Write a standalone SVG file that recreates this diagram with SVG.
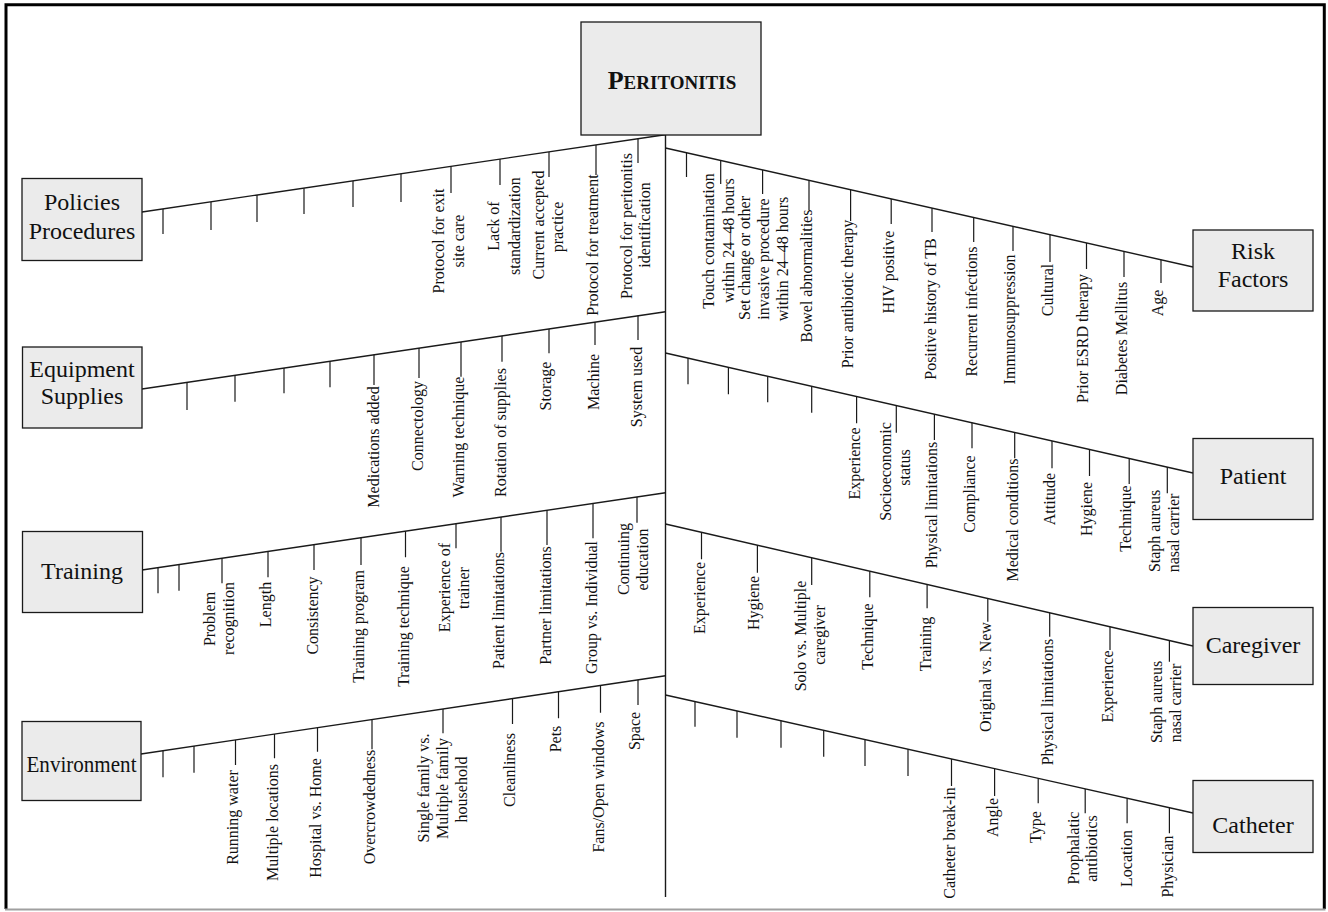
<svg xmlns="http://www.w3.org/2000/svg" width="1328" height="912" viewBox="0 0 1328 912">
<style>
.box{fill:#ebebeb;stroke:#1a1a1a;stroke-width:1.3}
.bt{font-family:"Liberation Serif","Times New Roman",serif;font-size:24px;text-anchor:middle;fill:#111}
.lb{font-family:"Liberation Serif","Times New Roman",serif;font-size:16px;text-anchor:middle;fill:#111}
.sp{stroke:#1a1a1a;stroke-width:1.4;fill:none}
.tk{stroke:#1a1a1a;stroke-width:1.2;fill:none}
</style>
<rect width="1328" height="912" fill="#fff"/>
<path d="M6,909 V4.7 H1324.3 V909" fill="none" stroke="#000" stroke-width="3"/>
<path d="M5,909.5 H1325.5" stroke="#a0a0a0" stroke-width="2"/>

<g id="connectors">
<path class="sp" d="M665.5,135 V897"/>
<path class="sp" d="M142,212 L665,134.7"/>
<path class="tk" d="M163,209V234 M211,201.9V230 M257,195.1V222 M304,188.2V214 M353,180.9V207 M401,173.8V202 M451,166.4V193 M500,159.1V185 M549,151.9V177 M596,144.9V175 M638,138.7V163"/>
<path class="sp" d="M142,389 L665.5,311.8"/>
<path class="tk" d="M187,382.4V410 M235,375.3V401.7 M284,368.1V393.3 M330,361.3V387.3 M374,354.8V385 M419,348.1V378 M461,341.9V376.7 M502,335.9V361.7 M549,329V353.3 M595,322.2V345 M638,315.8V340"/>
<path class="sp" d="M142,570 L665.5,492.8"/>
<path class="tk" d="M158,567.6V593.3 M179,564.5V590.7 M222,558.2V583.3 M268,551.4V577.3 M314,544.6V570 M361,537.7V565 M405.5,531.1V557.3 M456,523.7V548.3 M501,517V551.7 M547,510.3V545 M593,503.5V538.3 M637,497V522.7"/>
<path class="sp" d="M141,754 L665.5,675.8"/>
<path class="tk" d="M163,750.7V777.3 M194,746.1V772.7 M235.5,739.9V765 M274.5,734.1V758.3 M317.5,727.7V751.7 M372,719.5V749.3 M443,709V733.3 M512.5,698.6V724 M558.5,691.7V718.3 M600.5,685.5V712.7 M638,679.9V705"/>
<path class="sp" d="M665.5,148 L1193,267"/>
<path class="tk" d="M686.5,152.8V177 M720.7,160.6V184 M762.6,170V194 M809,180.5V210 M850.6,189.8V221 M891.2,199V224 M932,208.2V232 M973.7,217.6V242 M1013,226.4V251 M1050,234.8V262 M1086.5,243V269 M1124,251.4V277 M1161,259.8V283"/>
<path class="sp" d="M665.5,353 L1193,473"/>
<path class="tk" d="M688,358V384.3 M728.4,367.2V394.3 M767.7,376.2V402.3 M811.7,386.2V412.7 M856.6,396.4V423.3 M896.3,405.4V432.7 M934.4,414.1V440 M972,422.7V448.3 M1014.7,432.4V458.3 M1052,440.9V468.3 M1089.5,449.4V476 M1129.2,458.5V484 M1167.3,467.1V493.3"/>
<path class="sp" d="M665.5,524 L1193,646"/>
<path class="tk" d="M701.5,532.4V559.3 M757.4,545.3V572.7 M811.7,557.9V585 M869.8,571.3V597.3 M927.1,584.6V608.3 M987.8,598.6V621.7 M1049.7,612.9V636.7 M1110,626.8V650 M1169.4,640.5V661.7"/>
<path class="sp" d="M665.5,695 L1193,813"/>
<path class="tk" d="M695,701.5V726.7 M737,710.9V737.7 M781,720.7V747.7 M823.7,730.3V756.7 M865,739.6V766 M908,749.2V776 M951.5,758.9V786 M994.6,768.6V796 M1038.2,778.3V803.3 M1085.2,788.9V813.3 M1127.1,798.2V823.3 M1169.4,807.7V833.3"/>
</g>

<g id="peritonitis">
<rect class="box" x="581" y="22" width="180" height="113"/>
<text x="672" y="89" font-family="Liberation Serif, Times New Roman, serif" font-weight="bold" text-anchor="middle" fill="#111"><tspan font-size="26">P</tspan><tspan font-size="19">ERITONITIS</tspan></text>
</g>

<g id="policies-procedures">
<rect class="box" x="22" y="178.5" width="120" height="82"/>
<text class="bt" x="82" y="210">Policies</text>
<text class="bt" x="82" y="239">Procedures</text>
<g class="causes">
<text class="lb" transform="translate(444,241) rotate(-90)">Protocol for exit</text>
<text class="lb" transform="translate(463.5,241) rotate(-90)">site care</text>
<text class="lb" transform="translate(499,226) rotate(-90)">Lack of</text>
<text class="lb" transform="translate(519.5,226) rotate(-90)">standardization</text>
<text class="lb" transform="translate(544,225) rotate(-90)">Current accepted</text>
<text class="lb" transform="translate(563,227) rotate(-90)">practice</text>
<text class="lb" transform="translate(598,245) rotate(-90)">Protocol for treatment</text>
<text class="lb" transform="translate(632,226) rotate(-90)">Protocol for peritonitis</text>
<text class="lb" transform="translate(650,225) rotate(-90)">identification</text>
</g>
</g>

<g id="equipment-supplies">
<rect class="box" x="22.5" y="347" width="119.5" height="81"/>
<text class="bt" x="82" y="377">Equipment</text>
<text class="bt" x="82" y="404">Supplies</text>
<g class="causes">
<text class="lb" transform="translate(378.5,447) rotate(-90)">Medications added</text>
<text class="lb" transform="translate(423,426) rotate(-90)">Connectology</text>
<text class="lb" transform="translate(463.5,437) rotate(-90)">Warning technique</text>
<text class="lb" transform="translate(505.5,432.5) rotate(-90)">Rotation of supplies</text>
<text class="lb" transform="translate(551,386) rotate(-90)">Storage</text>
<text class="lb" transform="translate(598.5,382) rotate(-90)">Machine</text>
<text class="lb" transform="translate(642,387) rotate(-90)">System used</text>
</g>
</g>

<g id="training">
<rect class="box" x="22.5" y="531.5" width="120" height="81"/>
<text class="bt" x="82" y="579">Training</text>
<g class="causes">
<text class="lb" transform="translate(215,619) rotate(-90)">Problem</text>
<text class="lb" transform="translate(234,618.5) rotate(-90)">recognition</text>
<text class="lb" transform="translate(271,604.5) rotate(-90)">Length</text>
<text class="lb" transform="translate(317.5,615.5) rotate(-90)">Consistency</text>
<text class="lb" transform="translate(364,626.5) rotate(-90)">Training program</text>
<text class="lb" transform="translate(409,626.5) rotate(-90)">Training technique</text>
<text class="lb" transform="translate(450,587.5) rotate(-90)">Experience of</text>
<text class="lb" transform="translate(469,588) rotate(-90)">trainer</text>
<text class="lb" transform="translate(503.5,610.5) rotate(-90)">Patient limitations</text>
<text class="lb" transform="translate(551,605.5) rotate(-90)">Partner limitations</text>
<text class="lb" transform="translate(596.5,607.5) rotate(-90)">Group vs. Individual</text>
<text class="lb" transform="translate(629,559) rotate(-90)">Continuing</text>
<text class="lb" transform="translate(648,559.5) rotate(-90)">education</text>
</g>
</g>

<g id="environment">
<rect class="box" x="22" y="721.5" width="119" height="79"/>
<text class="bt" x="81.5" y="771.5" textLength="110" lengthAdjust="spacingAndGlyphs">Environment</text>
<g class="causes">
<text class="lb" transform="translate(238,817.5) rotate(-90)">Running water</text>
<text class="lb" transform="translate(277.5,822.5) rotate(-90)">Multiple locations</text>
<text class="lb" transform="translate(320.5,818) rotate(-90)">Hospital vs. Home</text>
<text class="lb" transform="translate(375,807) rotate(-90)">Overcrowdedness</text>
<text class="lb" transform="translate(429,788) rotate(-90)">Single family vs.</text>
<text class="lb" transform="translate(448,788.5) rotate(-90)">Multiple family</text>
<text class="lb" transform="translate(467,789.5) rotate(-90)">household</text>
<text class="lb" transform="translate(515,770) rotate(-90)">Cleanliness</text>
<text class="lb" transform="translate(560.5,739) rotate(-90)">Pets</text>
<text class="lb" transform="translate(603.5,787) rotate(-90)">Fans/Open windows</text>
<text class="lb" transform="translate(640,731) rotate(-90)">Space</text>
</g>
</g>

<g id="risk-factors">
<rect class="box" x="1193" y="230" width="120" height="81"/>
<text class="bt" x="1253" y="259">Risk</text>
<text class="bt" x="1253" y="287">Factors</text>
<g class="causes">
<text class="lb" transform="translate(714,241) rotate(-90)">Touch contamination</text>
<text class="lb" transform="translate(734,240.5) rotate(-90)">within 24–48 hours</text>
<text class="lb" transform="translate(750,258) rotate(-90)">Set change or other</text>
<text class="lb" transform="translate(769,259) rotate(-90)">invasive procedure</text>
<text class="lb" transform="translate(787.5,259) rotate(-90)">within 24–48 hours</text>
<text class="lb" transform="translate(812,276) rotate(-90)">Bowel abnormalities</text>
<text class="lb" transform="translate(853,294) rotate(-90)">Prior antibiotic therapy</text>
<text class="lb" transform="translate(893.5,272) rotate(-90)">HIV positive</text>
<text class="lb" transform="translate(936,309) rotate(-90)">Positive history of TB</text>
<text class="lb" transform="translate(976.5,311.5) rotate(-90)">Recurrent infections</text>
<text class="lb" transform="translate(1015,319.5) rotate(-90)">Immunosuppression</text>
<text class="lb" transform="translate(1053,290) rotate(-90)">Cultural</text>
<text class="lb" transform="translate(1088,338.5) rotate(-90)">Prior ESRD therapy</text>
<text class="lb" transform="translate(1127,338.5) rotate(-90)">Diabetes Mellitus</text>
<text class="lb" transform="translate(1163,303) rotate(-90)">Age</text>
</g>
</g>

<g id="patient">
<rect class="box" x="1193" y="438.5" width="120" height="81"/>
<text class="bt" x="1253" y="484">Patient</text>
<g class="causes">
<text class="lb" transform="translate(859.5,463.5) rotate(-90)">Experience</text>
<text class="lb" transform="translate(890.5,471.5) rotate(-90)">Socioeconomic</text>
<text class="lb" transform="translate(910,467.5) rotate(-90)">status</text>
<text class="lb" transform="translate(937.4,505) rotate(-90)">Physical limitations</text>
<text class="lb" transform="translate(975,494) rotate(-90)">Compliance</text>
<text class="lb" transform="translate(1017.7,520) rotate(-90)">Medical conditions</text>
<text class="lb" transform="translate(1055,499) rotate(-90)">Attitude</text>
<text class="lb" transform="translate(1091.5,509) rotate(-90)">Hygiene</text>
<text class="lb" transform="translate(1131,518.5) rotate(-90)">Technique</text>
<text class="lb" transform="translate(1160,531) rotate(-90)">Staph aureus</text>
<text class="lb" transform="translate(1179,533) rotate(-90)">nasal carrier</text>
</g>
</g>

<g id="caregiver">
<rect class="box" x="1193" y="607.5" width="120" height="77"/>
<text class="bt" x="1253" y="653">Caregiver</text>
<g class="causes">
<text class="lb" transform="translate(704.5,598) rotate(-90)">Experience</text>
<text class="lb" transform="translate(759,603) rotate(-90)">Hygiene</text>
<text class="lb" transform="translate(806,636) rotate(-90)">Solo vs. Multiple</text>
<text class="lb" transform="translate(824.5,635) rotate(-90)">caregiver</text>
<text class="lb" transform="translate(872.5,636.5) rotate(-90)">Technique</text>
<text class="lb" transform="translate(930.5,644) rotate(-90)">Training</text>
<text class="lb" transform="translate(990.8,677) rotate(-90)">Original vs. New</text>
<text class="lb" transform="translate(1052.7,702) rotate(-90)">Physical limitations</text>
<text class="lb" transform="translate(1113,686.5) rotate(-90)">Experience</text>
<text class="lb" transform="translate(1161.5,702) rotate(-90)">Staph aureus</text>
<text class="lb" transform="translate(1180.5,703) rotate(-90)">nasal carrier</text>
</g>
</g>

<g id="catheter">
<rect class="box" x="1193" y="780.5" width="120" height="72"/>
<text class="bt" x="1253" y="833">Catheter</text>
<g class="causes">
<text class="lb" transform="translate(954.5,843) rotate(-90)">Catheter break-in</text>
<text class="lb" transform="translate(997.5,817.5) rotate(-90)">Angle</text>
<text class="lb" transform="translate(1040.5,827) rotate(-90)">Type</text>
<text class="lb" transform="translate(1078.5,848) rotate(-90)">Prophalatic</text>
<text class="lb" transform="translate(1097,848.5) rotate(-90)">antibiotics</text>
<text class="lb" transform="translate(1132,858.5) rotate(-90)">Location</text>
<text class="lb" transform="translate(1173,866.5) rotate(-90)">Physician</text>
</g>
</g>
</svg>
